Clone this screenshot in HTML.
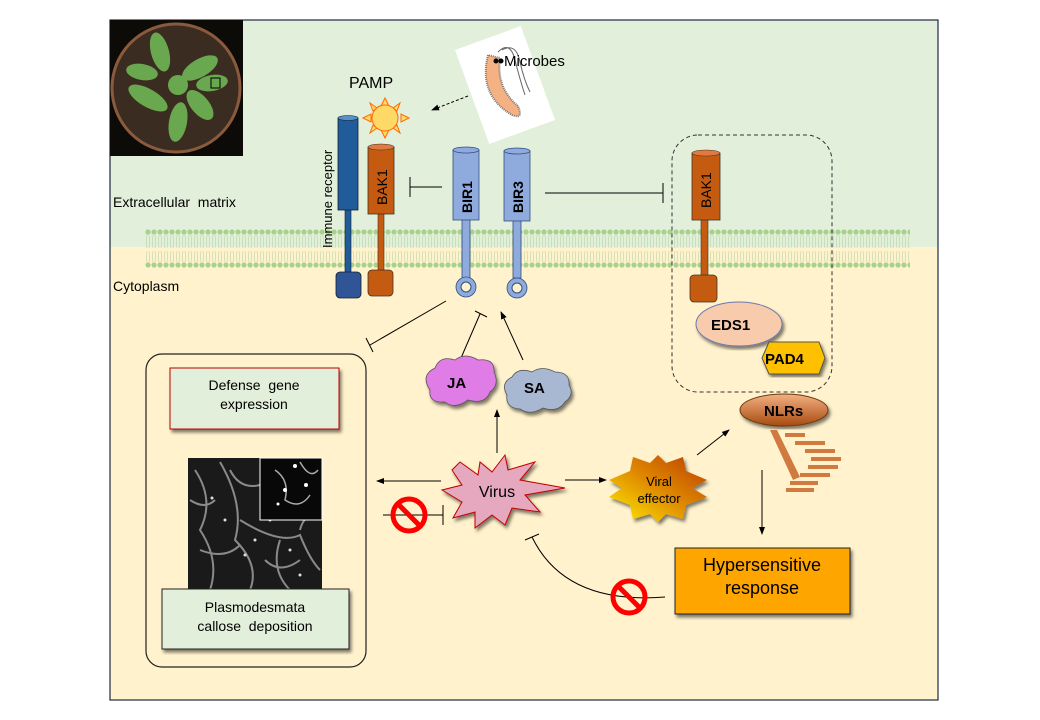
<!DOCTYPE html>
<html><head><meta charset="utf-8"><style>body{margin:0;background:#fff}svg{display:block}text{font-family:"Liberation Sans",sans-serif}</style></head><body>
<svg width="1040" height="720" viewBox="0 0 1040 720" xmlns="http://www.w3.org/2000/svg">
<defs>
<pattern id="mem" x="145" y="229" width="6" height="40" patternUnits="userSpaceOnUse">
<circle cx="3" cy="3" r="2.6" fill="#a9d18e"/><circle cx="3" cy="36" r="2.6" fill="#a9d18e"/>
<path d="M2 6 Q1 14 2 19 M4 6 Q5 14 4 19 M2 22 Q1 28 2 33 M4 22 Q5 28 4 33" stroke="#b7d6a3" stroke-width="0.6" fill="none"/>
</pattern>
<linearGradient id="ve" x1="0" y1="1" x2="1" y2="0"><stop offset="0" stop-color="#ffee00"/><stop offset="0.5" stop-color="#e08a00"/><stop offset="1" stop-color="#b83c00"/></linearGradient>
<linearGradient id="nl" x1="0" y1="0" x2="0" y2="1"><stop offset="0" stop-color="#f4b183"/><stop offset="1" stop-color="#a84a10"/></linearGradient>
<marker id="ar" markerWidth="8" markerHeight="8" refX="7" refY="4" orient="auto"><path d="M0 1 L8 4 L0 7z" fill="#000"/></marker>
<filter id="sh"><feDropShadow dx="2" dy="3" stdDeviation="1.5" flood-opacity="0.5"/></filter>
</defs>
<rect x="110" y="20" width="828" height="680" fill="#fff2cc"/>
<rect x="110" y="20" width="828" height="227" fill="#e2efda"/>
<rect x="145" y="229" width="765" height="40" fill="url(#mem)"/>
<rect x="110" y="20" width="828" height="680" fill="none" stroke="#1f2a44" stroke-width="1.2"/>
<!-- plant -->
<rect x="110" y="20" width="133" height="136" fill="#0d0b08"/>
<circle cx="176" cy="88" r="64" fill="#3a2c20" stroke="#8a5a3c" stroke-width="3"/>
<g fill="#6aa84f">
<ellipse cx="160" cy="52" rx="9" ry="20" transform="rotate(-15 160 52)"/>
<ellipse cx="200" cy="68" rx="9" ry="20" transform="rotate(60 200 68)"/>
<ellipse cx="212" cy="83" rx="8" ry="16" transform="rotate(80 212 83)"/>
<ellipse cx="148" cy="98" rx="9" ry="22" transform="rotate(-60 148 98)"/>
<ellipse cx="178" cy="122" rx="9" ry="20" transform="rotate(10 178 122)"/>
<ellipse cx="200" cy="105" rx="9" ry="18" transform="rotate(-40 200 105)"/>
<ellipse cx="142" cy="72" rx="8" ry="16" transform="rotate(-80 142 72)"/>
<circle cx="178" cy="85" r="10"/>
</g>
<rect x="211" y="78" width="9" height="10" fill="none" stroke="#000"/>
<!-- microbe -->
<g transform="rotate(-20 505 85)"><rect x="470" y="35" width="70" height="100" fill="#fff"/></g>
<path d="M488 55 Q478 95 512 115 Q524 120 518 106 Q496 88 500 58z" fill="#f4b183" stroke="#777" stroke-width="2" stroke-dasharray="1 1"/>
<circle cx="496" cy="61" r="2.5"/><circle cx="501" cy="61" r="2.5"/>
<path d="M498 52 Q510 40 515 60 Q520 80 525 95 M502 50 Q516 42 520 62 Q524 80 530 92" stroke="#666" fill="none"/>
<text x="504" y="66" font-size="15">Microbes</text>
<line x1="468" y1="96" x2="432" y2="110" stroke="#000" stroke-dasharray="3 2" marker-end="url(#ar)"/>
<!-- PAMP -->
<text x="349" y="88" font-size="16">PAMP</text>
<g fill="#ffd966" stroke="#ff6a00" stroke-width="1">
<polygon points="385,98 389,106 381,106"/><polygon points="385,138 389,130 381,130"/><polygon points="363,118 371,114 371,122"/><polygon points="409,118 401,114 401,122"/>
<polygon points="370,103 377,108 373,111"/><polygon points="400,103 393,108 397,111"/><polygon points="370,133 377,128 373,125"/><polygon points="400,133 393,128 397,125"/>
<circle cx="385" cy="118" r="13"/></g>
<!-- immune receptor -->
<text transform="translate(332 248) rotate(-90)" font-size="13">Immune receptor</text>
<rect x="345" y="208" width="6" height="66" fill="#1f5c99" stroke="#123" stroke-width="0.6"/>
<rect x="338" y="118" width="20" height="92" fill="#1f5c99" stroke="#123" stroke-width="0.8"/>
<ellipse cx="348" cy="118" rx="10" ry="2.5" fill="#5b8fc7" stroke="#123" stroke-width="0.6"/>
<rect x="336" y="272" width="25" height="26" rx="4" fill="#2f5597" stroke="#123" stroke-width="0.8"/>
<!-- BAK1 -->
<rect x="378" y="212" width="6" height="60" fill="#c55a11" stroke="#432" stroke-width="0.6"/>
<rect x="368" y="147" width="26" height="67" fill="#c55a11" stroke="#432" stroke-width="0.8"/>
<ellipse cx="381" cy="147" rx="13" ry="3" fill="#e07a40" stroke="#432" stroke-width="0.6"/>
<rect x="368" y="270" width="25" height="26" rx="4" fill="#c55a11" stroke="#432" stroke-width="0.8"/>
<text transform="translate(387 205) rotate(-90)" font-size="14">BAK1</text>
<path d="M410 177 V197 M410 187 H442" stroke="#000" fill="none"/>
<!-- BIR1 BIR3 -->
<g fill="#8faadc" stroke="#2f4f7f" stroke-width="0.8">
<rect x="462" y="218" width="8" height="60"/><rect x="453" y="150" width="26" height="70"/><ellipse cx="466" cy="150" rx="13" ry="3"/>
<circle cx="466" cy="287" r="10"/>
<rect x="513" y="218" width="8" height="60"/><rect x="504" y="151" width="26" height="70"/><ellipse cx="517" cy="151" rx="13" ry="3"/>
<circle cx="517" cy="288" r="10"/></g>
<circle cx="466" cy="287" r="5" fill="#fff2cc" stroke="#2f4f7f"/><circle cx="517" cy="288" r="5" fill="#fff2cc" stroke="#2f4f7f"/>
<text transform="translate(472 213) rotate(-90)" font-size="14" font-weight="bold">BIR1</text>
<text transform="translate(523 213) rotate(-90)" font-size="14" font-weight="bold">BIR3</text>
<path d="M545 193 H663 M663 183 V203" stroke="#000" fill="none"/>
<!-- dashed box -->
<rect x="672" y="135" width="160" height="257" rx="26" fill="none" stroke="#333" stroke-dasharray="4 3"/>
<rect x="701" y="218" width="7" height="58" fill="#c55a11" stroke="#432" stroke-width="0.6"/>
<rect x="692" y="153" width="28" height="67" fill="#c55a11" stroke="#432" stroke-width="0.8"/>
<ellipse cx="706" cy="153" rx="14" ry="3" fill="#e07a40" stroke="#432" stroke-width="0.6"/>
<rect x="690" y="275" width="27" height="27" rx="4" fill="#c55a11" stroke="#432" stroke-width="0.8"/>
<text transform="translate(711 208) rotate(-90)" font-size="14">BAK1</text>
<ellipse cx="739" cy="324" rx="43" ry="22" fill="#f8cbad" stroke="#6a7ab0" filter="url(#sh)"/>
<text x="711" y="330" font-size="15" font-weight="bold">EDS1</text>
<polygon points="769,342 819,342 825,358 819,374 769,374 762,358" fill="#ffc000" stroke="#554" filter="url(#sh)"/>
<text x="765" y="364" font-size="15" font-weight="bold">PAD4</text>
<!-- NLRs -->
<g fill="#d07a40"><rect x="785" y="433" width="20" height="4"/><rect x="795" y="441" width="30" height="4"/><rect x="805" y="449" width="30" height="4"/><rect x="811" y="457" width="30" height="4"/><rect x="808" y="465" width="30" height="4"/><rect x="800" y="473" width="30" height="4"/><rect x="790" y="481" width="28" height="4"/><rect x="786" y="488" width="28" height="4"/>
<polygon points="770,430 777,430 800,477 793,480"/></g>
<ellipse cx="784" cy="410" rx="44" ry="16" fill="url(#nl)" stroke="#6a3a10" filter="url(#sh)"/>
<text x="764" y="416" font-size="15" font-weight="bold">NLRs</text>
<!-- labels -->
<text x="113" y="207" font-size="14" xml:space="preserve">Extracellular  matrix</text>
<text x="113" y="291" font-size="14">Cytoplasm</text>
<!-- lines from BIR -->
<path d="M446 301 L370 345 M366 338 L373 352" stroke="#000" fill="none"/>
<path d="M461 358 L480 314 M475 311 L487 317" stroke="#000" fill="none"/>
<line x1="523" y1="360" x2="501" y2="312" stroke="#000" marker-end="url(#ar)"/>
<!-- clouds -->
<g filter="url(#sh)">
<path d="M430 390 Q420 375 435 368 Q440 355 455 360 Q465 352 478 360 Q495 358 494 372 Q500 385 490 392 Q485 405 468 400 Q455 410 445 402 Q428 403 430 390z" fill="#e07be6" stroke="#555" stroke-width="0.8"/>
<path d="M507 395 Q500 383 512 377 Q518 367 532 372 Q542 365 555 372 Q570 372 569 385 Q575 395 565 402 Q558 413 543 408 Q530 416 520 409 Q505 408 507 395z" fill="#a9b8d2" stroke="#555" stroke-width="0.8"/>
</g>
<text x="447" y="388" font-size="15" font-weight="bold">JA</text>
<text x="524" y="393" font-size="15" font-weight="bold">SA</text>
<!-- left box -->
<rect x="146" y="354" width="220" height="313" rx="16" fill="none" stroke="#222" stroke-width="1.2"/>
<rect x="170" y="368" width="169" height="61" fill="#e2efda" stroke="#c00000" filter="url(#sh)"/>
<text x="254" y="390" font-size="14" text-anchor="middle" xml:space="preserve">Defense  gene</text>
<text x="254" y="409" font-size="14" text-anchor="middle">expression</text>
<rect x="188" y="458" width="134" height="134" fill="#1a1a1a"/>
<g stroke="#8a8a8a" stroke-width="2" fill="none">
<path d="M195 470 Q215 500 200 530 Q220 560 210 590 M220 462 Q245 505 235 540 Q260 565 250 590 M240 520 Q280 545 300 535 Q310 560 320 570 M230 470 Q240 490 260 485 M280 540 Q270 570 290 590 M190 500 Q205 510 215 500 M200 550 Q225 560 240 545 M265 560 Q280 575 300 560 M300 530 Q305 510 322 520"/></g>
<g fill="#ddd"><circle cx="225" cy="520" r="1.5"/><circle cx="245" cy="555" r="1.5"/><circle cx="290" cy="550" r="1.5"/><circle cx="300" cy="575" r="1.5"/><circle cx="270" cy="520" r="1.5"/><circle cx="212" cy="498" r="1.5"/><circle cx="255" cy="540" r="1.5"/></g>
<rect x="260" y="458" width="62" height="62" fill="#080808" stroke="#fff"/>
<path d="M275 470 Q290 480 285 500 Q300 510 310 495 M300 462 Q310 480 318 470" stroke="#aaa" stroke-width="1.5" fill="none"/>
<g fill="#fff"><circle cx="295" cy="466" r="2"/><circle cx="285" cy="490" r="2"/><circle cx="306" cy="485" r="2"/><circle cx="278" cy="504" r="1.5"/></g>
<rect x="162" y="589" width="187" height="60" fill="#e2efda" stroke="#222" filter="url(#sh)"/>
<text x="255" y="612" font-size="14" text-anchor="middle">Plasmodesmata</text>
<text x="255" y="631" font-size="14" text-anchor="middle" xml:space="preserve">callose  deposition</text>
<!-- virus -->
<polygon points="460,462 478,475 480,462 492,472 505,455 508,470 535,462 520,480 565,488 525,495 540,512 512,508 505,525 492,515 475,528 475,512 453,518 462,502 442,490 462,485 452,470" fill="#e6a8bf" stroke="#c00000" filter="url(#sh)"/>
<text x="497" y="497" font-size="16" text-anchor="middle">Virus</text>
<line x1="497" y1="453" x2="497" y2="410" stroke="#000" marker-end="url(#ar)"/>
<line x1="441" y1="481" x2="377" y2="481" stroke="#000" marker-end="url(#ar)"/>
<path d="M383 515 H443 M443 505 V525" stroke="#000" fill="none"/>
<line x1="565" y1="480" x2="606" y2="480" stroke="#000" marker-end="url(#ar)"/>
<polygon points="658,455 666,463 683,457 686,471 707,480 692,488 707,497 686,505 683,519 666,514 658,522 650,514 633,519 630,505 609,497 622,488 609,480 630,471 633,457 650,463" fill="url(#ve)" filter="url(#sh)"/>
<text x="659" y="486" font-size="13" text-anchor="middle">Viral</text>
<text x="659" y="495" font-size="13" text-anchor="middle" dy="8">effector</text>
<line x1="697" y1="455" x2="729" y2="430" stroke="#000" marker-end="url(#ar)"/>
<line x1="762" y1="470" x2="762" y2="534" stroke="#000" marker-end="url(#ar)"/>
<rect x="675" y="548" width="175" height="66" fill="#ffa500" stroke="#222" filter="url(#sh)"/>
<text x="762" y="571" font-size="18" text-anchor="middle">Hypersensitive</text>
<text x="762" y="594" font-size="18" text-anchor="middle">response</text>
<path d="M665 597 Q565 605 532 537 M525 540 L539 534" stroke="#000" fill="none"/>
<!-- no symbols -->
<g stroke="#ff0000" stroke-width="5" fill="none">
<circle cx="409" cy="515" r="16"/><line x1="398" y1="504" x2="420" y2="526"/>
<circle cx="629" cy="597" r="16"/><line x1="618" y1="586" x2="640" y2="608"/></g>
</svg>
</body></html>
